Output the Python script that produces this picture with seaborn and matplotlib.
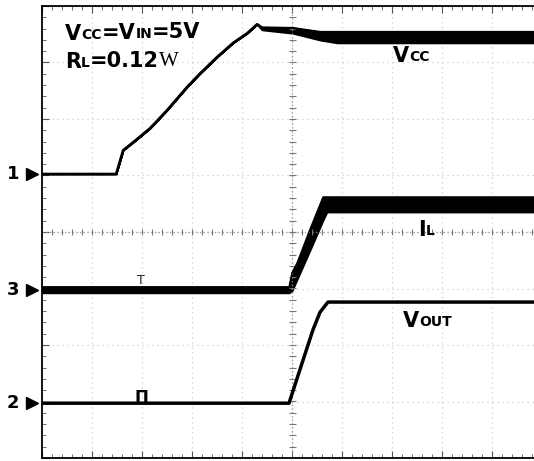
import numpy as np
import matplotlib
matplotlib.use("Agg")
import matplotlib.pyplot as plt
from matplotlib.ticker import MultipleLocator
import seaborn as sns

# Scope capture, units are graticule divisions (x: time, y: volts/amps per div)
vcc_t = [0, 1.48, 1.62, 1.82, 2.16, 2.50, 2.90, 3.16, 3.50, 3.82, 4.10, 4.30, 4.40, 5.02, 5.56, 5.90, 9.84]
vcc_hi = [1.03, 1.03, 1.45, 1.59, 1.84, 2.16, 2.57, 2.81, 3.10, 3.35, 3.52, 3.68, 3.62, 3.61, 3.54, 3.54, 3.54]
vcc_lo = [1.03, 1.03, 1.45, 1.59, 1.84, 2.16, 2.57, 2.81, 3.10, 3.35, 3.52, 3.68, 3.58, 3.52, 3.40, 3.35, 3.35]

il_t = [0, 4.94, 5.00, 5.10, 5.36, 5.62, 5.70, 9.84]
il_hi = [-0.97, -0.97, -0.72, -0.55, 0.05, 0.62, 0.62, 0.62]
il_lo = [-1.08, -1.08, -1.05, -0.85, -0.33, 0.20, 0.35, 0.35]

vout_t = [0, 4.94, 5.22, 5.42, 5.56, 5.72, 9.84]
vout_y = [-3.03, -3.03, -2.27, -1.73, -1.42, -1.24, -1.24]

channels = ["1", "3", "2"]
channel_levels = [1.03, -1.03, -3.03]

sns.set_theme(style="white")
plt.rcParams["font.family"] = ["DejaVu Sans"]
plt.rcParams["text.color"] = "black"

fig = plt.figure(figsize=(5.34, 4.61), dpi=100)
ax = fig.add_axes([42 / 534, 3 / 461, 492 / 534, 452 / 461])
ax.set_xlim(0, 9.84)
ax.set_ylim(-4, 4)

# graticule
ax.set_xticks(range(0, 10))
ax.set_yticks(range(-4, 5))
ax.xaxis.set_minor_locator(MultipleLocator(0.2))
ax.yaxis.set_minor_locator(MultipleLocator(0.2))
ax.set_xticklabels([])
ax.set_yticklabels([])
ax.tick_params(which="both", direction="in", top=True, bottom=True, left=True, right=False, colors="#555555")
ax.tick_params(which="major", length=5, width=0.8)
ax.tick_params(which="minor", length=3, width=0.6)
ax.grid(True, which="major", color="#cccccc", linestyle=(0, (1, 3)), linewidth=0.9)
for side in ["left", "top", "bottom"]:
    ax.spines[side].set_color("black")
    ax.spines[side].set_linewidth(1.3)
ax.spines["right"].set_visible(False)

ax.axhline(0, color="#999999", linestyle=(0, (1, 2)), linewidth=0.9)
ax.axvline(5, color="#999999", linestyle=(0, (1, 2)), linewidth=0.9)
ax.vlines(np.arange(0.2, 9.84, 0.2), -0.06, 0.06, color="#777777", linewidth=0.8)
ax.hlines(np.arange(-3.8, 4, 0.2), 4.93, 5.07, color="#777777", linewidth=0.8)

# traces
ax.fill_between(vcc_t, vcc_lo, vcc_hi, color="black", linewidth=1.5, edgecolor="black")
sns.lineplot(x=vcc_t, y=vcc_hi, ax=ax, color="black", linewidth=1.6)

ax.fill_between(il_t, il_lo, il_hi, color="black", linewidth=1.0, edgecolor="black")
sns.lineplot(x=il_t, y=il_hi, ax=ax, color="black", linewidth=1.0)

sns.lineplot(x=vout_t, y=vout_y, ax=ax, color="black", linewidth=2.5)

# trigger marks
ax.text(1.98, -0.98, "T", ha="center", va="bottom", fontsize=9, color="#222222")
ax.text(1.98, -3.02, "Π", ha="center", va="baseline", fontsize=12, fontweight="bold", color="black")

# channel markers
for name, lvl in zip(channels, channel_levels):
    ax.text(-0.58, lvl, name, ha="center", va="center", fontsize=13, fontweight="bold",
            color="black", clip_on=False)
    ax.plot([-0.2], [lvl], marker=">", markersize=8, color="black", clip_on=False)


def label(x, y, parts):
    # small-caps style labels: big letter followed by smaller letters on the same baseline
    s, size, fam, wt = parts[0]
    t = ax.text(x, y, s, fontsize=size, family=fam, fontweight=wt, va="baseline", ha="left",
                color="black")
    prev = size
    for s, size, fam, wt in parts[1:]:
        t = ax.annotate(s, xy=(1, 0), xycoords=t, xytext=(0, 0.23 * prev),
                        textcoords="offset points", fontsize=size, family=fam,
                        fontweight=wt, va="baseline", ha="left", color="black")
        prev = size


B = "DejaVu Sans"
label(0.46, 3.40, [("V", 15, B, "bold"), ("CC", 10, B, "bold"), ("=V", 15, B, "bold"),
                   ("IN", 10, B, "bold"), ("=5V", 15, B, "bold")])
label(0.46, 2.90, [("R", 15, B, "bold"), ("L", 10, B, "bold"), ("=0.12", 15, B, "bold"),
                   ("W", 15, "Liberation Serif", "normal")])
label(7.02, 3.01, [("V", 15, B, "bold"), ("CC", 10, B, "bold")])
label(7.52, -0.07, [("I", 15, B, "bold"), ("L", 10, B, "bold")])
label(7.22, -1.68, [("V", 15, B, "bold"), ("OUT", 10, B, "bold")])

fig.savefig("out.png", dpi=100)
